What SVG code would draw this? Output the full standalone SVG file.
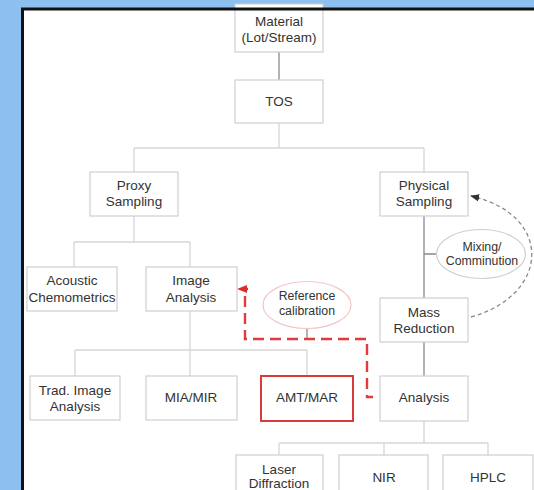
<svg xmlns="http://www.w3.org/2000/svg" width="534" height="490" viewBox="0 0 534 490">
<defs>
<style>
.box{fill:#fff;stroke:#cfcfcf;stroke-width:1.2}
.t{font-family:"Liberation Sans",Arial,sans-serif;font-size:13.5px;fill:#333;text-anchor:middle}
.s{font-size:12.3px}
.lc{fill:none;stroke:#d6d6d6;stroke-width:1.3}
.dc{fill:none;stroke:#8a8a8a;stroke-width:1.3}
</style>
<marker id="ga" viewBox="0 0 10 10" refX="9" refY="5" markerWidth="7" markerHeight="7" orient="auto"><path d="M0,1 L10,5 L0,9 z" fill="#333"/></marker>
</defs>
<rect x="0" y="0" width="534" height="490" fill="#8dc0ee"/>
<rect x="22.5" y="9" width="530" height="500" fill="#fff"/>

<g id="connectors">
<path class="dc" d="M279 52 V80"/>
<path class="lc" d="M279 123 V148 M134 148 H424 M134 148 V172 M424 148 V172"/>
<path class="lc" d="M134 216 V242 M74 242 H190 M74 242 V267 M190 242 V267"/>
<path class="lc" d="M190 311 V350 M75 350 H307 M75 350 V376 M190 350 V376 M307 350 V375"/>
<path class="dc" d="M424 216 V298 M424 254 H437 M424 342 V376"/>
<path class="lc" d="M424 421 V443 M279 443 H488 M279 443 V455 M384 443 V455 M488 443 V455"/>
<path class="dc" d="M307 328 V338"/>
<path d="M471 317 C550 295 554 215 471 196" fill="none" stroke="#8a8a8a" stroke-width="1.3" stroke-dasharray="4 3" marker-end="url(#ga)"/>
<path d="M245 296 V339 H367 V397 H373" fill="none" stroke="#e33b3b" stroke-width="2.4" stroke-dasharray="11 6"/>
<path d="M237 289 L247 285 L247 293 z" fill="#e02a2a"/>
<path d="M245 289 H248" stroke="#e02a2a" stroke-width="2.4"/>
</g>

<g id="material"><rect class="box" x="235" y="4" width="88" height="48"/><text class="t" x="279" y="26">Material</text><text class="t" x="279" y="42">(Lot/Stream)</text></g>
<g id="tos"><rect class="box" x="235" y="80" width="88" height="43"/><text class="t" x="279" y="106">TOS</text></g>
<g id="proxy"><rect class="box" x="90" y="172" width="88" height="44"/><text class="t" x="134" y="190">Proxy</text><text class="t" x="134" y="206">Sampling</text></g>
<g id="physical"><rect class="box" x="380" y="172" width="88" height="44"/><text class="t" x="424" y="190">Physical</text><text class="t" x="424" y="206">Sampling</text></g>
<g id="acoustic"><rect class="box" x="27" y="267" width="90" height="44"/><text class="t" x="72" y="285">Acoustic</text><text class="t" x="72" y="301.5">Chemometrics</text></g>
<g id="image"><rect class="box" x="146" y="267" width="91" height="44"/><text class="t" x="191" y="285">Image</text><text class="t" x="191" y="301.5">Analysis</text></g>
<g id="mixing"><ellipse cx="481" cy="254" rx="44.5" ry="24.5" fill="#fff" stroke="#cfcfcf" stroke-width="1.2"/><text class="t s" x="482" y="251">Mixing/</text><text class="t s" x="482" y="265">Comminution</text></g>
<g id="refcal"><ellipse cx="307" cy="305" rx="44" ry="23.5" fill="#fff" stroke="#f2c6c6" stroke-width="1.2"/><text class="t s" x="307" y="299.5">Reference</text><text class="t s" x="307" y="315">calibration</text></g>
<g id="mass"><rect class="box" x="380" y="298" width="88" height="44"/><text class="t" x="424" y="316.5">Mass</text><text class="t" x="424" y="333">Reduction</text></g>
<g id="trad"><rect class="box" x="30" y="376" width="90" height="44"/><text class="t" x="75" y="395">Trad. Image</text><text class="t" x="75" y="411">Analysis</text></g>
<g id="mia"><rect class="box" x="146" y="376" width="91" height="44"/><text class="t" x="191" y="402">MIA/MIR</text></g>
<g id="amt"><rect x="261" y="376" width="92" height="45" fill="#fff" stroke="#d93a3c" stroke-width="2"/><text class="t" x="307" y="402">AMT/MAR</text></g>
<g id="analysis"><rect class="box" x="380" y="376" width="88" height="45"/><text class="t" x="424" y="402">Analysis</text></g>
<g id="laser"><rect class="box" x="236" y="455" width="87" height="45"/><text class="t" x="279" y="473.5">Laser</text><text class="t" x="279" y="488">Diffraction</text></g>
<g id="nir"><rect class="box" x="339" y="455" width="89" height="45"/><text class="t" x="384" y="481.5">NIR</text></g>
<g id="hplc"><rect class="box" x="443" y="455" width="90" height="45"/><text class="t" x="488" y="481.5">HPLC</text></g>

<rect x="22.5" y="9" width="530" height="500" fill="none" stroke="#111" stroke-width="3"/>
</svg>
